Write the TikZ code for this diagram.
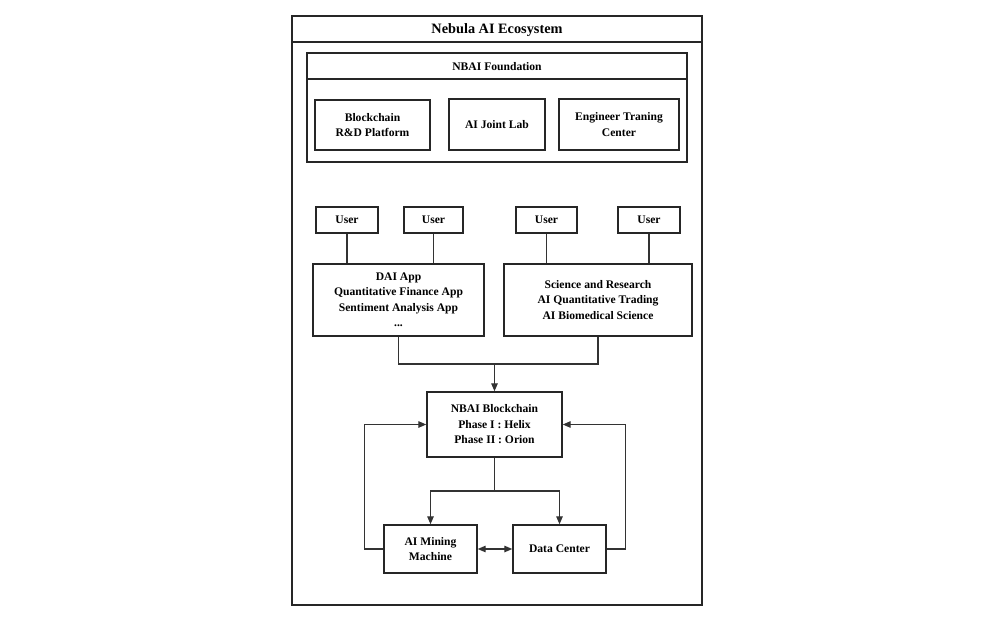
\documentclass[tikz,border=0pt]{standalone}
\usepackage{fontspec}
\setmainfont{Liberation Serif}
\usetikzlibrary{arrows.meta}
\begin{document}
\begin{tikzpicture}[x=1pt,y=-1pt,
  frame/.style={draw=black!85,line width=1.4pt},
  box/.style={draw=black!85,line width=1.4pt,inner sep=0pt,align=center,
    font=\bfseries\fontsize{11.6}{15.5}\selectfont},
  lbl/.style={inner sep=0pt,align=center,font=\bfseries\fontsize{11.6}{15.5}\selectfont},
  conn/.style={draw=black!80,line width=1.3pt},
  arr/.style={conn,-{Triangle[length=8pt,width=6.5pt]}},
  darr/.style={conn,{Triangle[length=8pt,width=6.5pt]}-{Triangle[length=8pt,width=6.5pt]}}]
\useasboundingbox (0,0) rectangle (1001,618);
% outer frame
\draw[frame] (292,16) rectangle (702,605);
\draw[frame] (292,42) -- (702,42);
\node[lbl,font=\bfseries\fontsize{14.3}{16}\selectfont] (title) at (497,30) {Nebula AI Ecosystem};
% foundation
\draw[frame] (307,53) rectangle (687,162);
\draw[frame] (307,79) -- (687,79);
\node[lbl] (found) at (497,67) {NBAI Foundation};
\node[box,minimum width=115,minimum height=50] (bc) at (372.5,125) {Blockchain\\R\&D Platform};
\node[box,minimum width=96,minimum height=51] (lab) at (497,124.5) {AI Joint Lab};
\node[box,minimum width=120,minimum height=51] (eng) at (619,124.5) {Engineer Traning\\Center};
% users
\node[box,minimum width=62,minimum height=26] (u1) at (347,220) {User};
\node[box,minimum width=59,minimum height=26] (u2) at (433.5,220) {User};
\node[box,minimum width=61,minimum height=26] (u3) at (546.5,220) {User};
\node[box,minimum width=62,minimum height=26] (u4) at (649,220) {User};
% apps
\node[box,minimum width=171,minimum height=72] (app1) at (398.5,300) {DAI App\\Quantitative Finance App\\Sentiment Analysis App\\...};
\node[box,minimum width=188,minimum height=72] (app2) at (598,300) {Science and Research\\AI Quantitative Trading\\AI Biomedical Science};
\draw[conn] (u1.south) -- (u1.south |- app1.north);
\draw[conn] (u2.south) -- (u2.south |- app1.north);
\draw[conn] (u3.south) -- (u3.south |- app2.north);
\draw[conn] (u4.south) -- (u4.south |- app2.north);
% blockchain
\node[box,minimum width=135,minimum height=65] (nb) at (494.5,424.5) {NBAI Blockchain\\Phase I : Helix\\Phase II : Orion};
\coordinate (m) at (494.5,364);
\draw[conn] (app1.south) |- (m);
\draw[conn] (app2.south) |- (m);
\draw[arr] (m) -- (nb.north);
% bottom
\node[box,minimum width=93,minimum height=48] (mine) at (430.5,549) {AI Mining\\Machine};
\node[box,minimum width=93,minimum height=48] (dc) at (559.5,549) {Data Center};
\coordinate (s) at (494.5,491);
\draw[conn] (nb.south) -- (s);
\draw[arr] (s) -| (mine.north);
\draw[arr] (s) -| (dc.north);
\draw[darr] (mine.east) -- (dc.west);
\draw[arr] (mine.west) -- ++(-19,0) |- (nb.west);
\draw[arr] (dc.east) -- ++(19,0) |- (nb.east);
\end{tikzpicture}
\end{document}
